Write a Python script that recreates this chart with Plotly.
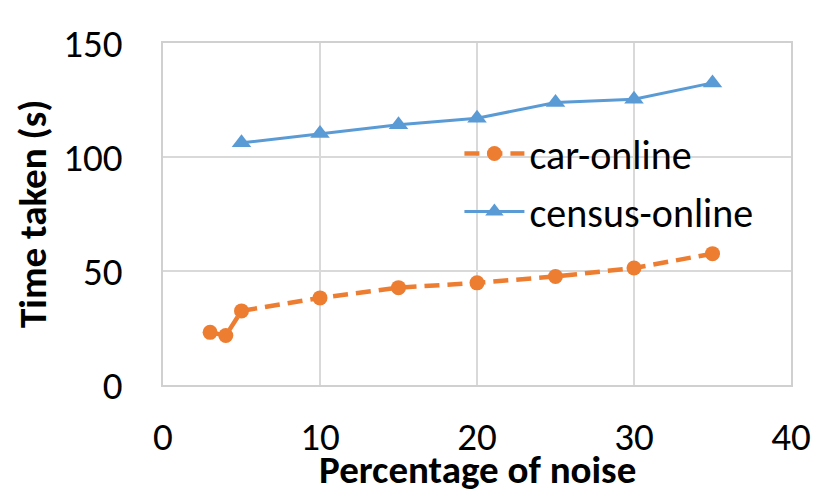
import plotly.graph_objects as go

car_x = [3, 4, 5, 10, 15, 20, 25, 30, 35]
car_y = [23.1, 21.7, 32.5, 38.2, 42.7, 44.8, 47.6, 51.3, 57.6]
census_x = [5, 10, 15, 20, 25, 30, 35]
census_y = [106.2, 110.3, 114.1, 117.0, 123.9, 125.3, 132.5]

FONT = "Carlito, Lato, 'Open Sans', sans-serif"
ORANGE = "#ED7D31"
BLUE = "#5B9BD5"

W, H = 822, 490
L, T, R, B = 155, 29, 39, 113
PW, PH = W - L - R, H - T - B

fig = go.Figure()
fig.add_trace(go.Scatter(
    x=car_x, y=car_y, name="car-online", mode="lines+markers",
    line=dict(color=ORANGE, width=4.5, dash="15px,8px"),
    marker=dict(symbol="circle", size=15, color=ORANGE),
    legendgroup="a",
))
fig.add_trace(go.Scatter(
    x=census_x, y=census_y, name="census-online", mode="lines+markers",
    line=dict(color=BLUE, width=3),
    marker=dict(symbol="triangle-up", size=17, color=BLUE),
    legendgroup="b",
))

fig.update_layout(
    width=W, height=H,
    margin=dict(l=L, r=R, t=T, b=B),
    paper_bgcolor="white", plot_bgcolor="white",
    font=dict(family=FONT, color="black", size=39),
    showlegend=True,
    legend=dict(
        x=0.472, y=0.772, xanchor="left", yanchor="top",
        font=dict(size=40, family=FONT, color="black"),
        bgcolor="rgba(0,0,0,0)", itemwidth=60,
        traceorder="grouped", tracegroupgap=3,
    ),
    xaxis=dict(
        range=[0, 40], dtick=10, tick0=0,
        showgrid=True, gridcolor="#D9D9D9", gridwidth=1.5,
        showline=True, linecolor="#D0D0D0", linewidth=1.5, mirror=True,
        zeroline=False, ticks="", ticklabelstandoff=16,
        tickfont=dict(size=39, family=FONT),
    ),
    yaxis=dict(
        range=[0, 150], dtick=50, tick0=0,
        showgrid=True, gridcolor="#D9D9D9", gridwidth=1.5,
        showline=True, linecolor="#D0D0D0", linewidth=1.5, mirror=True,
        zeroline=False, ticks="", ticklabelstandoff=31,
        tickfont=dict(size=39, family=FONT),
    ),
    annotations=[
        dict(text="<b>Percentage of noise</b>", xref="paper", yref="paper",
             x=0.5, y=(T + PH - 463) / PH, xanchor="center", yanchor="middle",
             showarrow=False, font=dict(size=39, family=FONT, color="black")),
        dict(text="<b>Time taken (s)</b>", xref="paper", yref="paper",
             x=(24 - L) / PW, y=0.5, xanchor="center", yanchor="middle",
             textangle=-90, showarrow=False,
             font=dict(size=39, family=FONT, color="black")),
    ],
)

fig.write_html("out.html")
